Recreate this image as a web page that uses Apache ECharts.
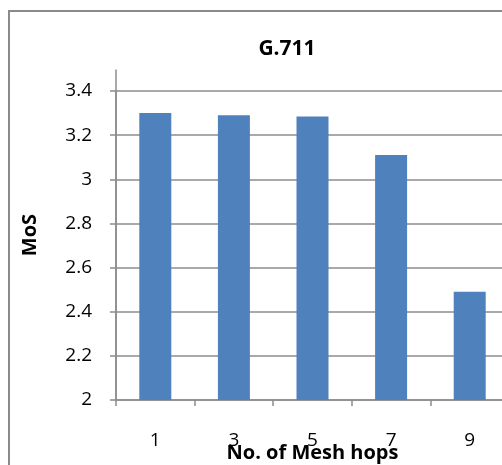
<!DOCTYPE html>
<html>
<head>
<meta charset="utf-8">
<script src="https://cdn.jsdelivr.net/npm/echarts@6/dist/echarts.min.js"></script>
<style>
  html, body { margin: 0; padding: 0; background: #fff; }
  #chart { width: 502px; height: 465px; }
</style>
</head>
<body>
<div id="chart"></div>
<script>
// MoS per number of mesh hops, G.711 codec
const hops = ['1', '3', '5', '7', '9'];
const mosValues = [3.30, 3.29, 3.285, 3.11, 2.49];
const chartTitle = 'G.711';
const xTitle = 'No. of Mesh hops';
const yTitle = 'MoS';

const FONT = '"Open Sans", "Liberation Sans", sans-serif';
const GRID_GRAY = '#8c8c8c';

const chart = echarts.init(document.getElementById('chart'), null, { renderer: 'canvas' });

chart.setOption({
  animation: false,
  backgroundColor: '#ffffff',
  textStyle: { fontFamily: FONT },
  graphic: [
    // chart-area frame (runs off the right and bottom edges)
    {
      type: 'rect',
      shape: { x: 9, y: 11, width: 700, height: 700 },
      style: { fill: 'none', stroke: '#8a8a8a', lineWidth: 2 },
      silent: true
    },
    {
      type: 'text',
      x: 287, y: 49,
      style: {
        text: chartTitle,
        fontFamily: FONT, fontSize: 21, fontWeight: 'bold',
        fill: '#000', align: 'center', verticalAlign: 'middle'
      }
    }
  ],
  grid: [
    { left: 116, top: 91, width: 393, height: 309, containLabel: false, outerBoundsMode: 'none' },
    { left: 116, top: 70, width: 393, height: 330, containLabel: false, outerBoundsMode: 'none' }
  ],
  xAxis: [
    {
      type: 'category',
      gridIndex: 0,
      data: hops,
      boundaryGap: true,
      axisLine: { show: true, lineStyle: { color: GRID_GRAY, width: 1.5 } },
      axisTick: { show: true, alignWithLabel: false, length: 6, lineStyle: { color: GRID_GRAY, width: 1.5 } },
      axisLabel: { color: '#000', fontSize: 19, fontFamily: FONT, margin: 31 },
      name: xTitle,
      nameLocation: 'middle',
      nameGap: 43,
      nameMoveOverlap: false,
      nameTextStyle: { color: '#000', fontSize: 20, fontWeight: 'bold', fontFamily: FONT }
    },
    {
      type: 'category',
      gridIndex: 1,
      data: hops,
      show: false
    }
  ],
  yAxis: [
    {
      type: 'value',
      gridIndex: 0,
      min: 2,
      max: 3.4,
      interval: 0.2,
      axisLine: { show: true, lineStyle: { color: GRID_GRAY, width: 1.5 } },
      axisTick: { show: true, length: 6, lineStyle: { color: GRID_GRAY, width: 1.5 } },
      splitLine: { show: true, lineStyle: { color: GRID_GRAY, width: 1.5 } },
      axisLabel: {
        color: '#000', fontSize: 19, fontFamily: FONT, margin: 24,
        formatter: v => String(Math.round(v * 10) / 10)
      }
    },
    {
      // full-height value axis line of the plot area, carrying the axis title
      type: 'value',
      gridIndex: 1,
      min: 2,
      max: 3.5,
      axisLine: { show: true, lineStyle: { color: GRID_GRAY, width: 1.5 } },
      axisTick: { show: false },
      axisLabel: { show: false },
      splitLine: { show: false },
      name: yTitle,
      nameLocation: 'middle',
      nameGap: 76,
      nameRotate: 90,
      nameMoveOverlap: false,
      nameTextStyle: { color: '#000', fontSize: 20, fontWeight: 'bold', fontFamily: FONT }
    }
  ],
  series: [
    {
      type: 'bar',
      xAxisIndex: 0,
      yAxisIndex: 0,
      data: mosValues,
      barWidth: 32,
      itemStyle: { color: '#4F81BD' },
      silent: true
    }
  ]
});
</script>
</body>
</html>
